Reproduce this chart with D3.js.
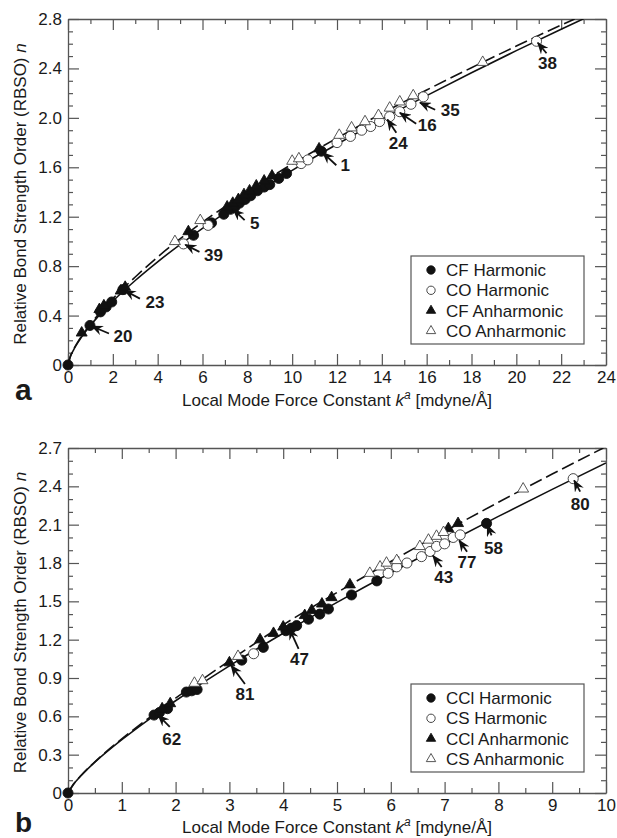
<!DOCTYPE html>
<html>
<head>
<meta charset="utf-8">
<script src="https://cdn.jsdelivr.net/npm/d3@7"></script>
<style>
  body { margin: 0; background: #fff; }
  text { font-family: "Liberation Sans", Arial, Helvetica, sans-serif; fill: #1a1a1a; }
</style>
</head>
<body>
<div id="chart"></div>
<script>
// ---------- panel a : CF / CO ----------
var aXTicks = [0, 2, 4, 6, 8, 10, 12, 14, 16, 18, 20, 22, 24];
var aYTicks = [0, 0.4, 0.8, 1.2, 1.6, 2.0, 2.4, 2.8];
var aNames = ["CF Harmonic", "CO Harmonic", "CF Anharmonic", "CO Anharmonic"];

var aCFHarm = [[0, 0], [0.98, 0.32], [1.45, 0.43], [1.7, 0.47], [1.95, 0.51], [2.45, 0.61],
  [5.6, 1.05], [6.4, 1.15], [6.95, 1.22], [7.25, 1.26], [7.45, 1.28], [7.65, 1.31], [7.9, 1.34],
  [8.15, 1.37], [8.45, 1.41], [8.75, 1.44], [9.0, 1.46], [9.4, 1.51], [9.75, 1.55], [11.3, 1.73]];
var aCOHarm = [[5.15, 0.98], [6.25, 1.13], [10.4, 1.63], [10.7, 1.66], [12.0, 1.80], [12.6, 1.85],
  [13.1, 1.90], [13.5, 1.93], [13.9, 1.97], [14.35, 2.01], [14.8, 2.05], [15.3, 2.11], [15.85, 2.17],
  [20.9, 2.62]];
var aCFAnh = [[0.61, 0.26], [1.4, 0.45], [1.6, 0.48], [2.35, 0.60], [2.55, 0.63], [5.37, 1.08],
  [7.1, 1.28], [7.35, 1.31], [7.6, 1.34], [7.85, 1.38], [8.1, 1.41], [8.4, 1.45], [8.75, 1.49],
  [9.1, 1.53], [11.2, 1.75]];
var aCOAnh = [[4.77, 1.0], [5.9, 1.17], [10.0, 1.65], [10.3, 1.67], [12.1, 1.86], [12.65, 1.92],
  [13.25, 1.97], [13.85, 2.02], [14.35, 2.08], [14.8, 2.13], [15.4, 2.18], [18.5, 2.45]];

// fitted curves
var aHarmCurve = [[0, 0], [0.1, 0.065], [0.25, 0.123], [0.5, 0.198], [1, 0.32], [1.5, 0.424], [2, 0.517],
  [3, 0.684], [4, 0.835], [6, 1.106], [8, 1.349], [10, 1.575], [12, 1.786], [14, 1.988], [16, 2.18],
  [18, 2.365], [20, 2.544], [22, 2.717], [23, 2.802]];
var aAnhCurve = [[0, 0], [0.1, 0.067], [0.25, 0.127], [0.5, 0.205], [1, 0.33], [1.5, 0.438], [2, 0.537],
  [3, 0.712], [4, 0.874], [6, 1.156], [8, 1.401], [10, 1.626], [12, 1.836], [14, 2.035], [16, 2.225],
  [18, 2.406], [20, 2.581], [22, 2.751], [22.6, 2.8]];

var aLabels = ["20", "23", "39", "5", "1", "24", "16", "35", "38"];
var aLabelPts = [[0.98, 0.32], [2.45, 0.61], [5.15, 0.98], [7.3, 1.27], [11.3, 1.73], [14.2, 2.0],
  [14.73, 2.05], [15.62, 2.13], [20.9, 2.62]];

// ---------- panel b : CCl / CS ----------
var bXTicks = [0, 1, 2, 3, 4, 5, 6, 7, 8, 9, 10];
var bYTicks = [0, 0.3, 0.6, 0.9, 1.2, 1.5, 1.8, 2.1, 2.4, 2.7];
var bNames = ["CCl Harmonic", "CS Harmonic", "CCl Anharmonic", "CS Anharmonic"];

var bCClHarm = [[0, 0], [1.6, 0.61], [1.7, 0.63], [1.85, 0.66], [2.2, 0.79], [2.3, 0.8], [2.4, 0.81],
  [3.23, 1.04], [3.63, 1.14], [4.05, 1.27], [4.15, 1.29], [4.25, 1.31], [4.47, 1.36], [4.68, 1.4],
  [4.84, 1.44], [5.27, 1.55], [5.74, 1.66], [7.78, 2.11]];
var bCSHarm = [[3.45, 1.09], [5.95, 1.72], [6.11, 1.77], [6.3, 1.8], [6.57, 1.85], [6.73, 1.89],
  [6.85, 1.93], [7.0, 1.95], [7.16, 2.0], [7.29, 2.02], [9.39, 2.46]];
var bCClAnh = [[1.75, 0.66], [1.9, 0.7], [3.0, 1.02], [3.57, 1.2], [3.82, 1.25], [4.0, 1.3], [4.4, 1.39],
  [4.53, 1.43], [4.72, 1.48], [4.9, 1.53], [5.24, 1.63], [7.07, 2.07], [7.25, 2.11]];
var bCSAnh = [[2.35, 0.86], [2.5, 0.88], [3.16, 1.07], [5.61, 1.72], [5.8, 1.77], [5.92, 1.8],
  [6.11, 1.82], [6.54, 1.93], [6.7, 1.98], [6.85, 2.01], [6.98, 2.04], [8.46, 2.38]];

var bHarmCurve = [[0, 0], [0.1, 0.067], [0.25, 0.139], [0.5, 0.241], [1, 0.417], [1.5, 0.575], [2, 0.722],
  [3, 0.995], [4, 1.25], [5, 1.492], [6, 1.724], [7, 1.947], [8, 2.165], [9, 2.376], [10, 2.583]];
var bAnhCurve = [[0, 0], [0.1, 0.068], [0.25, 0.141], [0.5, 0.244], [1, 0.424], [1.5, 0.586], [2, 0.742],
  [3, 1.035], [4, 1.316], [5, 1.569], [6, 1.812], [7, 2.047], [8, 2.275], [9, 2.496], [9.95, 2.7]];

var bLabels = ["62", "81", "47", "43", "77", "58", "80"];
var bLabelPts = [[1.65, 0.62], [3.01, 1.01], [4.1, 1.3], [6.76, 1.87], [7.25, 1.99], [7.78, 2.11], [9.39, 2.46]];

// ---------- drawing ----------
const width = 617, height = 838;

const svg = d3.select("#chart")
  .append("svg")
  .attr("width", width)
  .attr("height", height);

svg.append("defs").append("marker")
  .attr("id", "arrow")
  .attr("viewBox", "0 0 12 10")
  .attr("refX", 11).attr("refY", 5)
  .attr("markerWidth", 12).attr("markerHeight", 10)
  .attr("markerUnits", "userSpaceOnUse")
  .attr("orient", "auto")
  .append("path")
  .attr("d", "M0,0 L12,5 L0,10 L4,5 z")
  .attr("fill", "#111");

function drawPanel(opt) {
  const w = opt.w, h = opt.h;
  const g = svg.append("g").attr("transform", "translate(" + opt.left + "," + opt.top + ")");

  const x = d3.scaleLinear().domain(opt.xDomain).range([0, w]);
  const y = d3.scaleLinear().domain(opt.yDomain).range([h, 0]);

  g.append("clipPath").attr("id", opt.id + "clip")
    .append("rect").attr("width", w).attr("height", h);

  // axes with inward ticks on all four sides
  var yFmt = d => d === 0 ? "0" : d.toFixed(1);
  var axes = [
    [d3.axisBottom(x).tickValues(opt.xTicks).tickFormat(d3.format("d")), "translate(0," + h + ")", true],
    [d3.axisTop(x).tickValues(opt.xTicks).tickFormat(""), null, false],
    [d3.axisLeft(y).tickValues(opt.yTicks).tickFormat(yFmt), null, true],
    [d3.axisRight(y).tickValues(opt.yTicks).tickFormat(""), "translate(" + w + ",0)", false]
  ];
  var minors = [
    [d3.axisBottom(x).tickValues(opt.xMinor), "translate(0," + h + ")"],
    [d3.axisTop(x).tickValues(opt.xMinor), null],
    [d3.axisLeft(y).tickValues(opt.yMinor), null],
    [d3.axisRight(y).tickValues(opt.yMinor), "translate(" + w + ",0)"]
  ];
  minors.forEach(function (a) {
    var ax = g.append("g").call(a[0].tickSize(-5).tickFormat("").tickSizeOuter(0));
    if (a[1]) ax.attr("transform", a[1]);
    ax.select(".domain").remove();
  });
  axes.forEach(function (a) {
    var ax = g.append("g").call(a[0].tickSize(-11).tickSizeOuter(0).tickPadding(a[2] ? 6 : 0));
    if (a[1]) ax.attr("transform", a[1]);
    ax.selectAll("text").style("font-size", "17px").attr("fill", "#1a1a1a");
  });
  g.selectAll(".tick line").attr("stroke", "#555").attr("stroke-width", 1.2);
  g.selectAll(".domain").attr("stroke", "#555").attr("stroke-width", 1.3);
  g.selectAll(".tick text").attr("fill", "#1a1a1a");

  // curves
  const line = d3.line().x(d => x(d[0])).y(d => y(d[1])).curve(d3.curveMonotoneX);
  const curves = g.append("g").attr("clip-path", "url(#" + opt.id + "clip)");
  curves.append("path").datum(opt.harmCurve)
    .attr("d", line).attr("fill", "none").attr("stroke", "#111").attr("stroke-width", 1.6);
  curves.append("path").datum(opt.anhCurve)
    .attr("d", line).attr("fill", "none").attr("stroke", "#111").attr("stroke-width", 1.6)
    .attr("stroke-dasharray", "13,5");

  // markers
  const circ = d3.symbol().type(d3.symbolCircle).size(80);
  const tri = d3.symbol().type(d3.symbolTriangle).size(52);
  var styles = [
    { sym: circ, fill: "#111", stroke: "#111" },
    { sym: circ, fill: "#fff", stroke: "#333" },
    { sym: tri, fill: "#111", stroke: "#111" },
    { sym: tri, fill: "#fff", stroke: "#444" }
  ];
  opt.series.forEach(function (s, i) {
    g.append("g").selectAll("path")
      .data(s)
      .enter().append("path")
      .attr("d", styles[i].sym)
      .attr("transform", d => "translate(" + x(d[0]) + "," + y(d[1]) + ")")
      .attr("fill", styles[i].fill)
      .attr("stroke", styles[i].stroke)
      .attr("stroke-width", 0.9);
  });

  // numbered arrows
  opt.labels.forEach(function (lab, i) {
    var px = x(opt.labelPts[i][0]), py = y(opt.labelPts[i][1]);
    var o = opt.offsets[i];
    var tx = px + o[2], ty = py + o[3];
    var len = Math.sqrt(o[2] * o[2] + o[3] * o[3]);
    g.append("line")
      .attr("x1", tx).attr("y1", ty)
      .attr("x2", px + o[2] / len * 2).attr("y2", py + o[3] / len * 2)
      .attr("stroke", "#111").attr("stroke-width", 1.8)
      .attr("marker-end", "url(#arrow)");
    g.append("text")
      .attr("x", px + o[0]).attr("y", py + o[1])
      .attr("dy", "0.36em")
      .attr("text-anchor", "middle")
      .style("font-size", "17px").style("font-weight", "bold")
      .text(lab);
  });

  // legend
  const lg = g.append("g").attr("transform", "translate(" + (w - 195) + "," + (h - opt.legendUp) + ")");
  lg.append("rect").attr("width", 173).attr("height", 88)
    .attr("fill", "#fff").attr("stroke", "#555").attr("stroke-width", 1.2);
  const lcirc = d3.symbol().type(d3.symbolCircle).size(55);
  const ltri = d3.symbol().type(d3.symbolTriangle).size(38);
  opt.names.forEach(function (nm, i) {
    var row = lg.append("g").attr("transform", "translate(0," + (14 + i * 20.3) + ")");
    row.append("path")
      .attr("d", i < 2 ? lcirc : ltri)
      .attr("transform", "translate(20,0)")
      .attr("fill", styles[i].fill).attr("stroke", styles[i].stroke).attr("stroke-width", 0.9);
    row.append("text").attr("x", 35).attr("dy", "0.36em")
      .style("font-size", "17px").text(nm);
  });

  // axis titles
  const xt = g.append("text").attr("x", w / 2).attr("y", h + opt.xTitleY)
    .attr("text-anchor", "middle").style("font-size", "17px");
  xt.append("tspan").text("Local Mode Force Constant ");
  xt.append("tspan").style("font-style", "italic").text("k");
  xt.append("tspan").style("font-style", "italic").style("font-size", "12px").attr("dy", "-7").text("a");
  xt.append("tspan").attr("dy", "7").text(" [mdyne/Å]");

  const yt = g.append("text")
    .attr("transform", "translate(" + (26 - opt.left) + "," + (h / 2 + 2) + ") rotate(-90)")
    .attr("text-anchor", "middle").style("font-size", "17px");
  yt.append("tspan").text("Relative Bond Strength Order (RBSO) ");
  yt.append("tspan").style("font-style", "italic").text("n");

  g.append("text").attr("x", 15 - opt.left).attr("y", h + opt.letterY)
    .style("font-size", opt.letterSize).style("font-weight", "bold").text(opt.letter);
}

drawPanel({
  id: "a", left: 68, top: 19, w: 538, h: 346,
  xDomain: [0, 24], yDomain: [0, 2.8],
  xTicks: aXTicks, yTicks: aYTicks,
  xMinor: d3.range(1, 24, 2), yMinor: d3.range(0.1, 2.8, 0.1).filter((d, i) => (i + 1) % 4 !== 0),
  harmCurve: aHarmCurve, anhCurve: aAnhCurve,
  series: [aCFHarm, aCOHarm, aCFAnh, aCOAnh],
  labels: aLabels, labelPts: aLabelPts,
  offsets: [[33, 10, 19, 8], [32, 12, 17, 9], [30, 11, 16, 8], [23, 15, 13, 12], [24, 14, 15, 14],
    [12, 25, 10, 15], [29, 13, 18, 12], [32, 8, 17, 8], [11, 22, 10, 12]],
  names: aNames, legendUp: 109,
  xTitleY: 41, letterY: 35, letter: "a", letterSize: "30px"
});

drawPanel({
  id: "b", left: 68, top: 448, w: 538, h: 345,
  xDomain: [0, 10], yDomain: [0, 2.7],
  xTicks: bXTicks, yTicks: bYTicks,
  xMinor: d3.range(0.5, 10, 1), yMinor: d3.range(0.1, 2.7, 0.1).filter((d, i) => (i + 1) % 3 !== 0),
  harmCurve: bHarmCurve, anhCurve: bAnhCurve,
  series: [bCClHarm, bCSHarm, bCClAnh, bCSAnh],
  labels: bLabels, labelPts: bLabelPts,
  offsets: [[15, 25, 13, 13], [15, 30, 15, 20], [11, 32, 10, 22], [12, 23, 10, 13], [9, 23, 9, 13],
    [7, 24, 5, 12], [7, 25, 7, 13]],
  names: bNames, legendUp: 109,
  xTitleY: 40, letterY: 39, letter: "b", letterSize: "28px"
});
</script>
</body>
</html>
